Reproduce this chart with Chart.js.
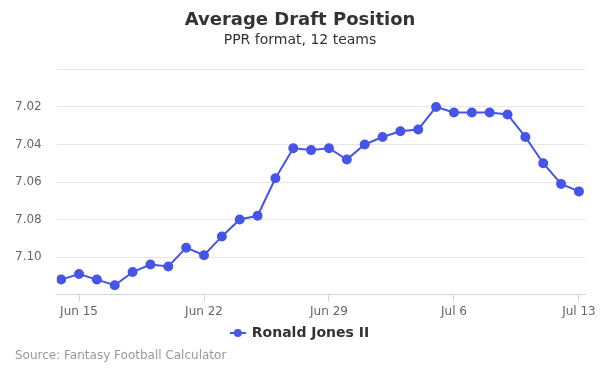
<!DOCTYPE html>
<html>
<head>
<meta charset="utf-8">
<script src="https://cdn.jsdelivr.net/npm/chart.js@4.4.1/dist/chart.umd.min.js"></script>
<style>
  html, body { margin: 0; padding: 0; background: #fff; }
  #wrap { position: relative; width: 600px; height: 375px; }
  #credit {
    position: absolute; left: 15px; top: 348px;
    font: 12px "DejaVu Sans", sans-serif; color: #999;
  }
</style>
</head>
<body>
<div id="wrap">
  <canvas id="adp" width="600" height="375"></canvas>
  <div id="credit">Source: Fantasy Football Calculator</div>
</div>
<script>
// Daily ADP for one player, Jun 14 - Jul 13
const dates = [
  'Jun 14', 'Jun 15', 'Jun 16', 'Jun 17', 'Jun 18', 'Jun 19', 'Jun 20', 'Jun 21',
  'Jun 22', 'Jun 23', 'Jun 24', 'Jun 25', 'Jun 26', 'Jun 27', 'Jun 28', 'Jun 29',
  'Jun 30', 'Jul 1', 'Jul 2', 'Jul 3', 'Jul 4', 'Jul 5', 'Jul 6', 'Jul 7',
  'Jul 8', 'Jul 9', 'Jul 10', 'Jul 11', 'Jul 12', 'Jul 13'
];
const adp = [
  7.112, 7.109, 7.112, 7.115, 7.108, 7.104, 7.105, 7.095,
  7.099, 7.089, 7.080, 7.078, 7.058, 7.042, 7.043, 7.042,
  7.048, 7.040, 7.036, 7.033, 7.032, 7.020, 7.023, 7.023,
  7.023, 7.024, 7.036, 7.050, 7.061, 7.065
];
const tickDays = ['Jun 15', 'Jun 22', 'Jun 29', 'Jul 6', 'Jul 13'];
const playerName = 'Ronald Jones II';

const lineColor = '#4655e8';
const font = '"DejaVu Sans", sans-serif';

// legend marker: short line with a dot, like the original
function legendMarker() {
  const c = document.createElement('canvas');
  c.width = 16; c.height = 10;
  const g = c.getContext('2d');
  g.strokeStyle = lineColor; g.lineWidth = 2;
  g.beginPath(); g.moveTo(0, 5); g.lineTo(16, 5); g.stroke();
  g.fillStyle = lineColor;
  g.beginPath(); g.arc(8, 5, 4, 0, Math.PI * 2); g.fill();
  return c;
}
const marker = legendMarker();

// right padding is only there for the plot; center titles + legend on the full width
const centerBlocks = {
  id: 'centerBlocks',
  afterLayout(chart) {
    chart.boxes.forEach(b => {
      if (b.position === 'top' || b === chart.legend) b.right += 15;
    });
  }
};

new Chart(document.getElementById('adp'), {
  type: 'line',
  data: {
    datasets: [{
      label: playerName,
      data: adp.map((v, i) => ({ x: i, y: v })),
      borderColor: lineColor,
      backgroundColor: lineColor,
      borderWidth: 2,
      pointRadius: 4,
      pointHoverRadius: 4,
      tension: 0
    }]
  },
  plugins: [centerBlocks],
  options: {
    responsive: false,
    animation: false,
    layout: { padding: { left: 0, right: 15, top: 0, bottom: 25 } },
    plugins: {
      tooltip: { enabled: false },
      title: {
        display: true,
        text: 'Average Draft Position',
        color: '#333',
        font: { family: font, size: 18, weight: 'bold' },
        padding: { top: 10, bottom: 0 }
      },
      subtitle: {
        display: true,
        text: 'PPR format, 12 teams',
        color: '#333',
        font: { family: font, size: 14 },
        padding: { top: 0, bottom: 21 }
      },
      legend: {
        position: 'bottom',
        labels: {
          color: '#333',
          font: { family: font, size: 14, weight: 'bold' },
          usePointStyle: true,
          boxWidth: 16,
          padding: 4,
          generateLabels: (chart) => Chart.defaults.plugins.legend.labels.generateLabels(chart)
            .map(item => Object.assign(item, { pointStyle: marker }))
        }
      }
    },
    scales: {
      x: {
        type: 'linear',
        min: -0.25,
        max: 29.34,
        afterBuildTicks: (axis) => {
          axis.ticks = tickDays.map(d => ({ value: dates.indexOf(d) }));
        },
        ticks: {
          color: '#666',
          font: { family: font, size: 12 },
          padding: 3,
          maxRotation: 0,
          callback: (v) => dates[v]
        },
        grid: { drawOnChartArea: false, tickLength: 7, tickColor: '#ccd6eb' },
        border: { color: '#ccd6eb' }
      },
      y: {
        reverse: true,
        min: 7.0,
        max: 7.12,
        ticks: {
          stepSize: 0.02,
          color: '#666',
          font: { family: font, size: 12 },
          padding: 15,
          callback: (v) => (v < 7.001 || v > 7.119) ? '' : v.toFixed(2)
        },
        grid: { color: '#e6e6e6', drawTicks: false },
        border: { display: false }
      }
    }
  }
});
</script>
</body>
</html>
